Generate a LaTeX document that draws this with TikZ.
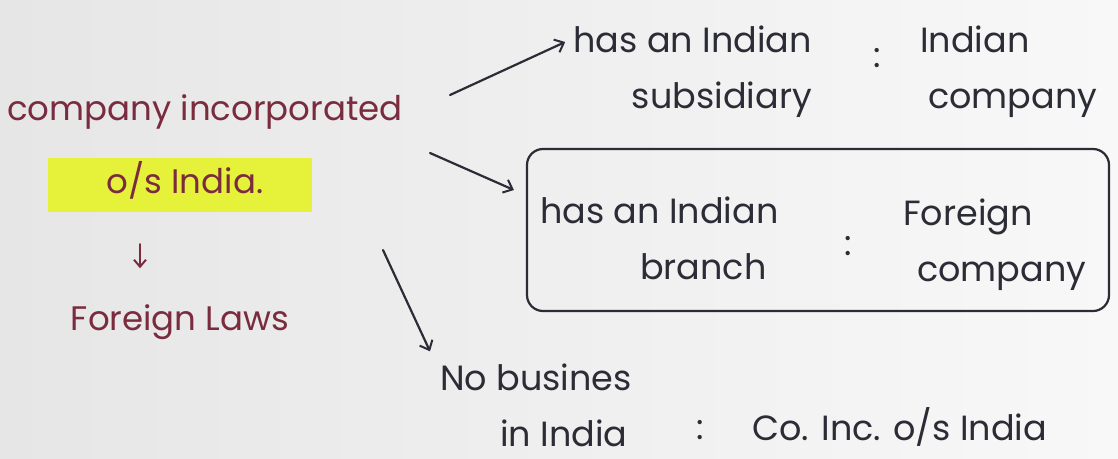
\documentclass[tikz,border=0pt]{standalone}
\usepackage{fontspec}
\setmainfont{Poppins}
\usetikzlibrary{arrows.meta}
\definecolor{paper}{HTML}{E6E6E6}
\definecolor{paperhi}{HTML}{F8F8F8}
\definecolor{maroon}{HTML}{7A2C3E}
\definecolor{ink}{HTML}{2C2C36}
\definecolor{marker}{HTML}{E6F23A}
\tikzset{
  note/.style={font=\fontsize{35}{56}\selectfont, inner sep=0pt},
  left note/.style={note, text=maroon, font=\fontsize{34}{56}\selectfont},
  right note/.style={note, text=ink},
  pen/.style={draw=ink, line width=2.2pt, line cap=round, line join=round},
  arr/.style={pen, -{Straight Barb[length=8pt,width=14pt,line width=2pt]}},
  redarr/.style={draw=maroon, line width=2.2pt, line cap=round, -{Straight Barb[length=7pt,width=12pt,line width=2pt]}},
  colon/.style={note, text=ink}
}
\begin{document}
\begin{tikzpicture}[x=1pt,y=-1pt]
  % paper
  \path[left color=paper, right color=paperhi] (0,0) rectangle (1118,458);
  \useasboundingbox (0,0) rectangle (1118,458);

  % left column
  \node[left note] (comp) at (205,112) {company incorporated};
  \node[fill=marker, minimum width=264pt, minimum height=54pt, inner sep=0pt] (mark) at (180,185) {};
  \node[left note] (osi) at (185,180) {o/s India.};
  \node[left note] (laws) at (180,322) {Foreign Laws};
  \draw[redarr, shorten <=32pt, shorten >=36pt] (mark.south -| 140,0) -- (laws.north -| 140,0);

  % subsidiary case
  \node[right note, align=right, anchor=east] (sub) at (812,72) {has an Indian\\subsidiary};
  \node[colon] (c1) at (877,58) {:};
  \node[right note, align=left, anchor=west] (ind) at (920,72) {Indian\\\hspace*{8pt}company};

  % branch case
  \node[draw=ink, line width=2.2pt, rounded corners=16pt, minimum width=582pt, minimum height=162pt] (box) at (818,230) {};
  \node[right note, align=left, anchor=west] (br) at (540,238) {has an Indian\\\hspace*{100pt}branch};
  \node[colon] (c2) at (848,246) {:};
  \node[right note, align=left, anchor=west] (fc) at (903,245) {Foreign\\\hspace*{14pt}company};

  % no business case
  \node[right note, align=left, anchor=west] (nob) at (440,405) {No busines\\\hspace*{60pt}in India};
  \node[colon] (c3) at (700,430) {:};
  \node[right note, anchor=west] (coinc) at (752,427) {Co. Inc. o/s India};

  % connectors
  \coordinate (t1) at (450,95);
  \coordinate (t2) at (430,153);
  \coordinate (t3) at (383,250);
  \draw[arr] (t1) -- ([xshift=-8pt,yshift=30pt]sub.west);
  \draw[arr] (t2) -- ([xshift=-12pt,yshift=40pt]box.west);
  \draw[arr] (t3) -- ([xshift=-10pt,yshift=12pt]nob.north west);
\end{tikzpicture}
\end{document}
